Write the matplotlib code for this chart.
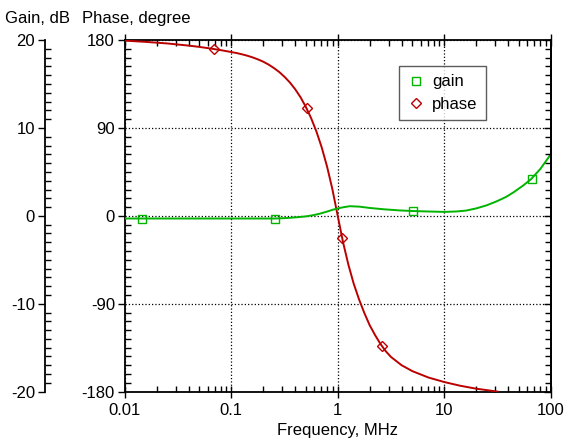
import matplotlib
matplotlib.use("Agg")
import matplotlib.pyplot as plt
from matplotlib.ticker import FixedLocator, FixedFormatter, MultipleLocator, LogLocator, NullFormatter

plt.rcParams['font.family'] = ['Liberation Sans', 'DejaVu Sans']
plt.rcParams['font.size'] = 12
plt.rcParams['axes.unicode_minus'] = False

# gain curve (dB)
gain_freq = [0.01, 0.0146, 0.05, 0.1, 0.258, 0.33, 0.42, 0.51, 0.6, 0.68, 0.8,
             0.9, 1.0, 1.15, 1.3, 1.6, 2.0, 2.7, 3.8, 5.1, 7.0, 10, 13, 16,
             20, 25, 31, 38, 45, 55, 65, 80, 100]
gain_db = [-0.3, -0.3, -0.3, -0.3, -0.3, -0.25, -0.15, -0.05, 0.1, 0.25, 0.5,
           0.7, 0.85, 1.0, 1.1, 1.05, 0.9, 0.75, 0.62, 0.55, 0.5, 0.45, 0.5, 0.6,
           0.85, 1.2, 1.65, 2.15, 2.7, 3.45, 4.15, 5.35, 7.0]
gain_mark_freq = [0.0146, 0.258, 5.1, 66]
gain_mark_db = [-0.3, -0.3, 0.55, 4.2]

# phase curve (degree)
phase_freq = [0.01, 0.0158, 0.0251, 0.0398, 0.05, 0.0631, 0.0794, 0.1, 0.112,
              0.126, 0.141, 0.158, 0.178, 0.2, 0.224, 0.251, 0.282, 0.316,
              0.355, 0.398, 0.447, 0.501, 0.562, 0.631, 0.708, 0.794, 0.891,
              1.0, 1.122, 1.259, 1.413, 1.585, 1.778, 1.995, 2.239, 2.512,
              2.818, 3.162, 3.981, 5.012, 7.079, 10, 14.13, 19.95, 31.62]
phase_deg = [179.5, 178.2, 176.6, 174.4, 173.1, 171.5, 169.8, 167.8, 166.8,
             165.5, 164.1, 162.4, 160.3, 157.9, 155.0, 151.5, 147.4, 142.5,
             136.7, 129.8, 121.6, 111.8, 100.2, 86.4, 70.0, 50.5, 27.3,
             0, -27, -50, -69.5, -85.5, -99.5, -112, -122, -131,
             -138.5, -144.5, -153, -159, -165.5, -170.2, -174, -177, -180]
phase_mark_freq = [0.069, 0.51, 1.1, 2.62]
phase_mark_deg = [171, 110.5, -23, -133]

x_ticks = [0.01, 0.1, 1, 10, 100]
x_tick_labels = ['0.01', '0.1', '1', '10', '100']
phase_ticks = [-180, -90, 0, 90, 180]
gain_ticks = [-20, -10, 0, 10, 20]

green = '#00b400'
red = '#bb0000'

fig = plt.figure(figsize=(5.64, 4.41), dpi=100)
ax = fig.add_axes([0.2211, 0.112, 0.9765 - 0.2211, 0.909 - 0.112])
ax2 = ax.twinx()

# phase on the main axes
ax.plot(phase_freq, phase_deg, color=red, lw=1.4, zorder=3)
ax.plot(phase_mark_freq, phase_mark_deg, ls='none', marker='D', ms=5,
        mfc='none', mec=red, mew=1.0, label='phase', zorder=4)
ax.set_xscale('log')
ax.set_xlim(0.01, 100)
ax.set_ylim(-180, 180)
ax.xaxis.set_major_locator(FixedLocator(x_ticks))
ax.xaxis.set_major_formatter(FixedFormatter(x_tick_labels))
ax.xaxis.set_minor_locator(LogLocator(base=10, subs=range(2, 10)))
ax.xaxis.set_minor_formatter(NullFormatter())
ax.yaxis.set_major_locator(FixedLocator(phase_ticks))
ax.yaxis.set_minor_locator(MultipleLocator(9))
ax.grid(True, which='major', color='black', ls=':', lw=0.9)
ax.set_xlabel('Frequency, MHz', labelpad=4)

ax.tick_params(axis='x', which='major', direction='inout', length=8, width=1, top=True, pad=4)
ax.tick_params(axis='x', which='minor', direction='in', length=4, width=1, top=True)
ax.tick_params(axis='y', which='major', direction='out', length=5, width=1, pad=2)
ax.tick_params(axis='y', which='minor', direction='in', length=4, width=1)
for s in ax.spines.values():
    s.set_linewidth(1.3)

# gain on an extra left axis
ax2.plot(gain_freq, gain_db, color=green, lw=1.4, zorder=3)
ax2.plot(gain_mark_freq, gain_mark_db, ls='none', marker='s', ms=6,
         mfc='none', mec=green, mew=1.0, label='gain', zorder=4)
ax2.set_ylim(-20, 20)
ax2.yaxis.set_ticks_position('left')
ax2.yaxis.set_label_position('left')
ax2.spines['left'].set_position(('outward', 57.6))
ax2.spines['left'].set_linewidth(1.3)
for side in ['right', 'top', 'bottom']:
    ax2.spines[side].set_visible(False)
ax2.yaxis.set_major_locator(FixedLocator(gain_ticks))
ax2.yaxis.set_minor_locator(MultipleLocator(1))
ax2.tick_params(axis='y', which='major', direction='out', length=5, width=1, pad=2)
ax2.tick_params(axis='y', which='minor', direction='in', length=4, width=1)

# right-hand spine ticks mirror the phase scale
ax3 = ax.twinx()
ax3.set_ylim(-180, 180)
ax3.yaxis.set_major_locator(FixedLocator(phase_ticks))
ax3.yaxis.set_minor_locator(MultipleLocator(9))
ax3.tick_params(axis='y', which='both', direction='in', labelright=False)
ax3.tick_params(axis='y', which='major', length=5, width=1)
ax3.tick_params(axis='y', which='minor', length=4, width=1)
for side in ['left', 'top', 'bottom']:
    ax3.spines[side].set_visible(False)
ax3.spines['right'].set_linewidth(1.3)

h1, l1 = ax2.get_legend_handles_labels()
h2, l2 = ax.get_legend_handles_labels()
leg = ax3.legend(h1 + h2, l1 + l2, loc='upper left', bbox_to_anchor=(0.644, 0.926),
                 frameon=True, fancybox=False, handlelength=1.0, handletextpad=0.5,
                 borderpad=0.5, labelspacing=0.45, borderaxespad=0)
leg.get_frame().set_edgecolor('#333333')
leg.get_frame().set_linewidth(1.0)

fig.text(0.008, 0.958, 'Gain, dB', ha='left', va='center')
fig.text(0.146, 0.958, 'Phase, degree', ha='left', va='center')

fig.savefig('out.png', dpi=100)
